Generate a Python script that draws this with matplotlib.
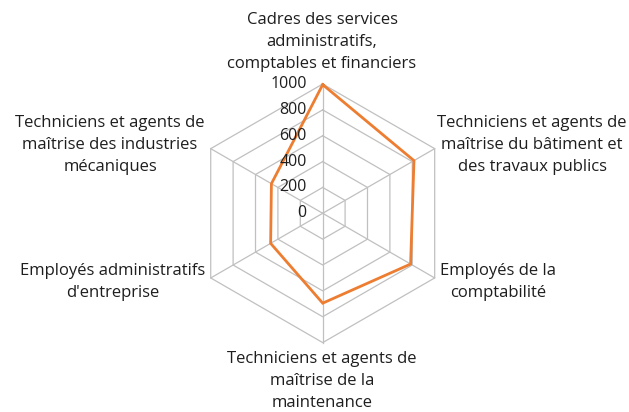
import numpy as np
import matplotlib.pyplot as plt

# categories clockwise from the top
categories = [
    "Cadres des services\nadministratifs,\ncomptables et financiers",
    "Techniciens et agents de\nmaîtrise du bâtiment et\ndes travaux publics",
    "Employés de la\ncomptabilité",
    "Techniciens et agents de\nmaîtrise de la\nmaintenance",
    "Employés administratifs\nd'entreprise",
    "Techniciens et agents de\nmaîtrise des industries\nmécaniques",
]
values = [995, 815, 785, 695, 465, 458]
ticks = [0, 200, 400, 600, 800, 1000]

plt.rcParams["font.family"] = ["Open Sans", "DejaVu Sans"]
text_col = "#1e1e1e"

fig = plt.figure(figsize=(6.29, 4.12), dpi=100)
ax = fig.add_axes([0, 0, 1, 1])
# pixel layout: centre (322.7, 213.3), radius 1000 -> 129.3 px
scale = 1000 / 129.3
ax.set_xlim(-322.7 * scale, (629 - 322.7) * scale)
ax.set_ylim(-(412 - 213.3) * scale, 213.3 * scale)
ax.axis("off")

n = len(categories)
ang = np.pi / 2 - np.arange(n) * 2 * np.pi / n
cx, cy = np.cos(ang), np.sin(ang)

# hexagonal grid
for t in ticks[1:]:
    ax.plot(np.append(cx, cx[0]) * t, np.append(cy, cy[0]) * t,
            color="#c0c0c0", lw=0.9, zorder=1)
for i in range(n):
    ax.plot([0, cx[i] * ticks[-1]], [0, cy[i] * ticks[-1]],
            color="#c0c0c0", lw=0.9, zorder=1)

# tick labels
for t in ticks:
    ax.text(-16 * scale, t, str(t), ha="right", va="center",
            fontsize=11.5, color=text_col, zorder=3)

# data line
v = np.array(values, dtype=float)
ax.plot(np.append(cx * v, cx[0] * v[0]), np.append(cy * v, cy[0] * v[0]),
        color="#ed7d31", lw=2.0, zorder=2, solid_joinstyle="miter")

# category labels (pixel positions converted to data units)
def px(x, y):
    return (x - 322.7) * scale, (213.3 - y) * scale

label_pos = [
    px(322, 42),
    px(532, 145),
    px(498, 282),
    px(322, 381),
    px(113, 282),
    px(110, 145),
]
for lab, (x, y) in zip(categories, label_pos):
    ax.text(x, y, lab, ha="center", va="center", fontsize=12, color=text_col,
            linespacing=1.5, multialignment="center")

fig.savefig("out.png", dpi=100)
